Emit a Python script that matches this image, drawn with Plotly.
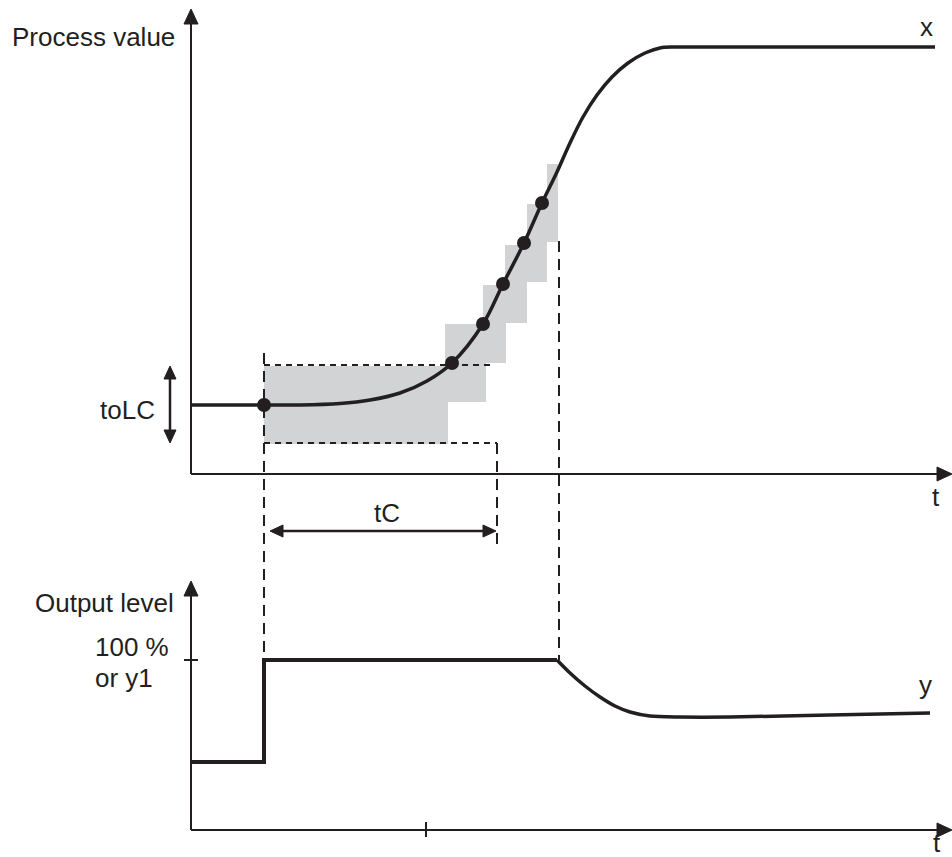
import plotly.graph_objects as go

W, H = 952, 857
INK = "#231f20"
GRAY = "#d1d3d4"
FONT = "Liberation Sans, Arial, Helvetica, sans-serif"
FS = 26

# ---------------- data (diagram coordinates) ----------------
# process value curve x(t)
process_t = [191, 264, 300, 340, 370, 400, 427, 452, 483, 503, 524, 542, 557, 570, 583, 597, 612, 628, 645, 660, 675, 700, 935]
process_x = [405, 405, 405, 403.5, 400, 393, 381, 363, 324, 284, 243, 203, 172, 143, 117, 95, 77, 63, 53, 48, 47, 47, 47]

# sampled points during the check
sample_t = [264, 452, 483, 503, 524, 542]
sample_x = [405, 363, 324, 284, 243, 203]

# tolerance windows (toLC band) around each sample
window_t0 = [264, 445, 483, 505, 527, 547]
window_t1 = [448, 486, 506, 527, 547, 558]
tol_half = 39

# output level y(t)
output_step_t = [191, 264, 264, 557]
output_step_y = [762, 762, 660, 660]
output_decay_t = [557, 570, 585, 600, 615, 630, 650, 680, 730, 830, 930]
output_decay_y = [660, 673, 686, 697, 706, 712, 716, 717, 717, 715, 713]

# axes geometry
upper_origin = (191, 474)
upper_top = 9
lower_origin = (191, 830)
lower_top = 581
axis_right = 952
y_tick_level = 660
t_tick = 426

# time marks
t_start = 264
t_check_end = 497
t_release = 559
tC_arrow_y = 531
band_top = 366
band_bottom = 443

fig = go.Figure()
shapes = []


def line(x0, y0, x1, y1, width=2, dash=None, layer="above"):
    d = dict(type="line", xref="x", yref="y", x0=x0, y0=y0, x1=x1, y1=y1,
             line=dict(color=INK, width=width), layer=layer)
    if dash:
        d["line"]["dash"] = dash
    shapes.append(d)


def head(tx, ty, direction, length=15, half=7):
    dx, dy = {"up": (0, 1), "down": (0, -1), "right": (-1, 0), "left": (1, 0)}[direction]
    bx, by = tx + dx * length, ty + dy * length
    px, py = -dy * half, dx * half
    path = f"M {tx},{ty} L {bx + px},{by + py} L {bx - px},{by - py} Z"
    shapes.append(dict(type="path", xref="x", yref="y", path=path,
                       fillcolor=INK, line=dict(color=INK, width=1)))


# tolerance windows (gray)
for a, b, v in zip(window_t0, window_t1, sample_x):
    shapes.append(dict(type="rect", xref="x", yref="y", x0=a, x1=b,
                       y0=v - tol_half, y1=v + tol_half,
                       fillcolor=GRAY, line=dict(width=0), layer="below"))

# axes
ox, oy = upper_origin
line(ox, oy, ox, upper_top + 10)
head(ox, upper_top, "up")
line(ox, oy, axis_right - 10, oy)
head(axis_right, oy, "right")
lx, ly = lower_origin
line(lx, ly, lx, lower_top + 10)
head(lx, lower_top, "up")
line(lx, ly, axis_right - 10, ly)
head(axis_right, ly, "right")
line(lx - 7, y_tick_level, lx + 7, y_tick_level)
line(t_tick, ly - 8, t_tick, ly + 7)

# dashed vertical guides
LONG = "11px,7px"
DOT = "6px,5px"
line(t_start, 353, t_start, y_tick_level, width=2, dash=LONG)
line(t_release, 241, t_release, y_tick_level, width=2, dash=LONG)
line(t_check_end, band_bottom, t_check_end, 546, width=2, dash=LONG)

# dotted band borders
line(t_start, band_top - 1, 490, band_top - 1, width=2, dash=DOT)
line(t_start, band_bottom, t_check_end, band_bottom, width=2, dash=DOT)

# tC arrow
line(t_start + 12, tC_arrow_y, t_check_end - 14, tC_arrow_y, width=2.5)
head(t_start + 6, tC_arrow_y, "left", length=13, half=6)
head(t_check_end - 1, tC_arrow_y, "right", length=13, half=6)

# toLC arrow
line(170, band_top + 12, 170, band_bottom - 12, width=2.5)
head(170, band_top, "up", length=13, half=6)
head(170, band_bottom, "down", length=13, half=6)

# curves
fig.add_trace(go.Scatter(x=process_t, y=process_x, mode="lines",
                         line=dict(color=INK, width=3.5, shape="spline", smoothing=1.0),
                         hoverinfo="skip"))
fig.add_trace(go.Scatter(x=output_step_t, y=output_step_y, mode="lines",
                         line=dict(color=INK, width=4), hoverinfo="skip"))
fig.add_trace(go.Scatter(x=output_decay_t, y=output_decay_y, mode="lines",
                         line=dict(color=INK, width=3.5, shape="spline", smoothing=0.8),
                         hoverinfo="skip"))
fig.add_trace(go.Scatter(x=sample_t, y=sample_x, mode="markers",
                         marker=dict(color=INK, size=14), hoverinfo="skip"))

labels = [
    ("Process value", 177, 37, "right"),
    ("Output level", 176, 603, "right"),
    ("100 %", 93, 647, "left"),
    ("or y1", 93, 678, "left"),
    ("toLC", 127, 410, "center"),
    ("tC", 387, 513, "center"),
    ("x", 926, 27, "center"),
    ("y", 925, 685, "center"),
    ("t", 936, 497, "center"),
    ("t", 937, 843, "center"),
]
annotations = [dict(text=t, x=x, y=y, xref="x", yref="y", xanchor=a, yanchor="middle",
                    showarrow=False, font=dict(family=FONT, size=FS, color=INK))
               for t, x, y, a in labels]

fig.update_layout(
    width=W, height=H, margin=dict(l=0, r=0, t=0, b=0),
    paper_bgcolor="white", plot_bgcolor="white", showlegend=False,
    xaxis=dict(range=[0, W], visible=False, fixedrange=True),
    yaxis=dict(range=[H, 0], visible=False, fixedrange=True),
    shapes=shapes, annotations=annotations,
)
fig.write_html(
    "out.html",
    config={"displayModeBar": False},
    post_script="document.body.style.margin='0';document.body.style.overflow='hidden';",
)
